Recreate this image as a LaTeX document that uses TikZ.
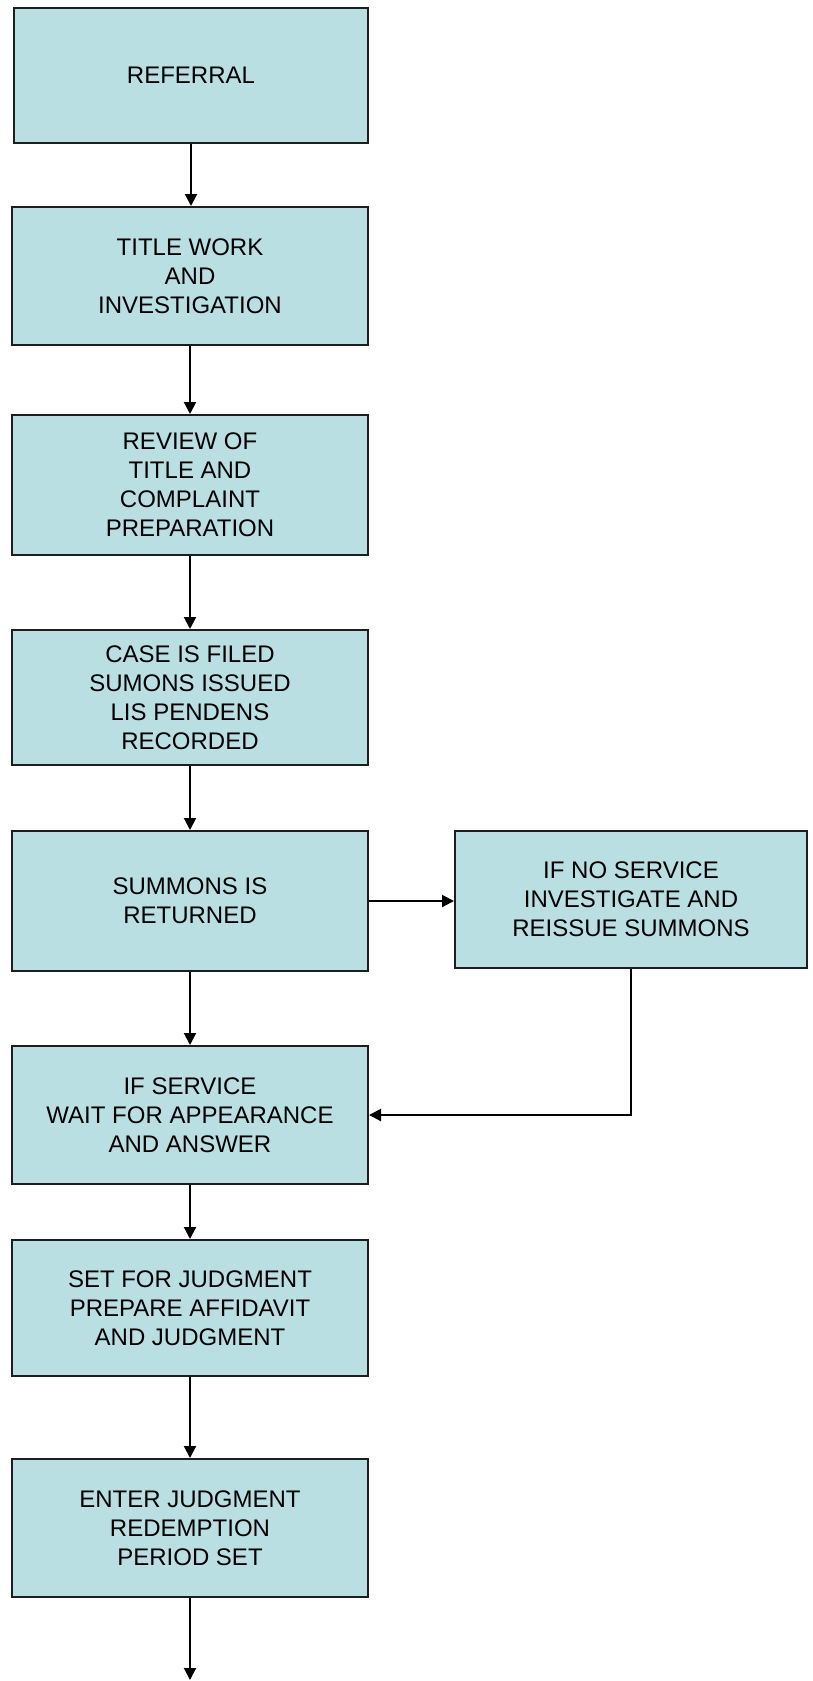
\documentclass[tikz,border=0pt]{standalone}
\usepackage{fontspec}
\setmainfont{Liberation Sans}
\usetikzlibrary{arrows.meta}
\definecolor{boxfill}{RGB}{186,223,226}
\definecolor{boxline}{RGB}{30,30,30}
\begin{document}
\begin{tikzpicture}[x=1pt,y=-1pt,
  flowbox/.style={draw=boxline,line width=2pt,fill=boxfill,align=center,
    inner sep=0pt,font=\fontsize{24}{29}\selectfont,text=black},
  flowarrow/.style={draw=black,line width=2pt,-{Triangle[width=12pt,length=12pt]}}]
\useasboundingbox[fill=white] (0,0) rectangle (812,1681);
\node[flowbox,minimum width=354pt,minimum height=135pt] (referral) at (191,75) {REFERRAL};
\node[flowbox,minimum width=356pt,minimum height=138pt] (title) at (190,276) {TITLE WORK\\AND\\INVESTIGATION};
\node[flowbox,minimum width=356pt,minimum height=140pt] (review) at (190,485) {REVIEW OF\\TITLE AND\\COMPLAINT\\PREPARATION};
\node[flowbox,minimum width=356pt,minimum height=135pt] (filed) at (190,697.5) {CASE IS FILED\\SUMONS ISSUED\\LIS PENDENS\\RECORDED};
\node[flowbox,minimum width=356pt,minimum height=140pt] (returned) at (190,901) {SUMMONS IS\\RETURNED};
\node[flowbox,minimum width=352pt,minimum height=137pt] (noservice) at (631,899.5) {IF NO SERVICE\\INVESTIGATE AND\\REISSUE SUMMONS};
\node[flowbox,minimum width=356pt,minimum height=138pt] (service) at (190,1115) {IF SERVICE\\WAIT FOR APPEARANCE\\AND ANSWER};
\node[flowbox,minimum width=356pt,minimum height=136pt] (setjudg) at (190,1308) {SET FOR JUDGMENT\\PREPARE AFFIDAVIT\\AND JUDGMENT};
\node[flowbox,minimum width=356pt,minimum height=138pt] (enter) at (190,1528) {ENTER JUDGMENT\\REDEMPTION\\PERIOD SET};
\coordinate (end) at (190,1680);
\draw[flowarrow] (referral.south) -- (referral.south |- title.north);
\draw[flowarrow] (title) -- (review);
\draw[flowarrow] (review) -- (filed);
\draw[flowarrow] (filed) -- (returned);
\draw[flowarrow] (returned.east) -- (noservice.west |- returned.east);
\draw[flowarrow] (returned) -- (service);
\draw[flowarrow] (noservice.south) |- (service.east);
\draw[flowarrow] (service) -- (setjudg);
\draw[flowarrow] (setjudg) -- (enter);
\draw[flowarrow] (enter) -- (end);
\end{tikzpicture}
\end{document}
